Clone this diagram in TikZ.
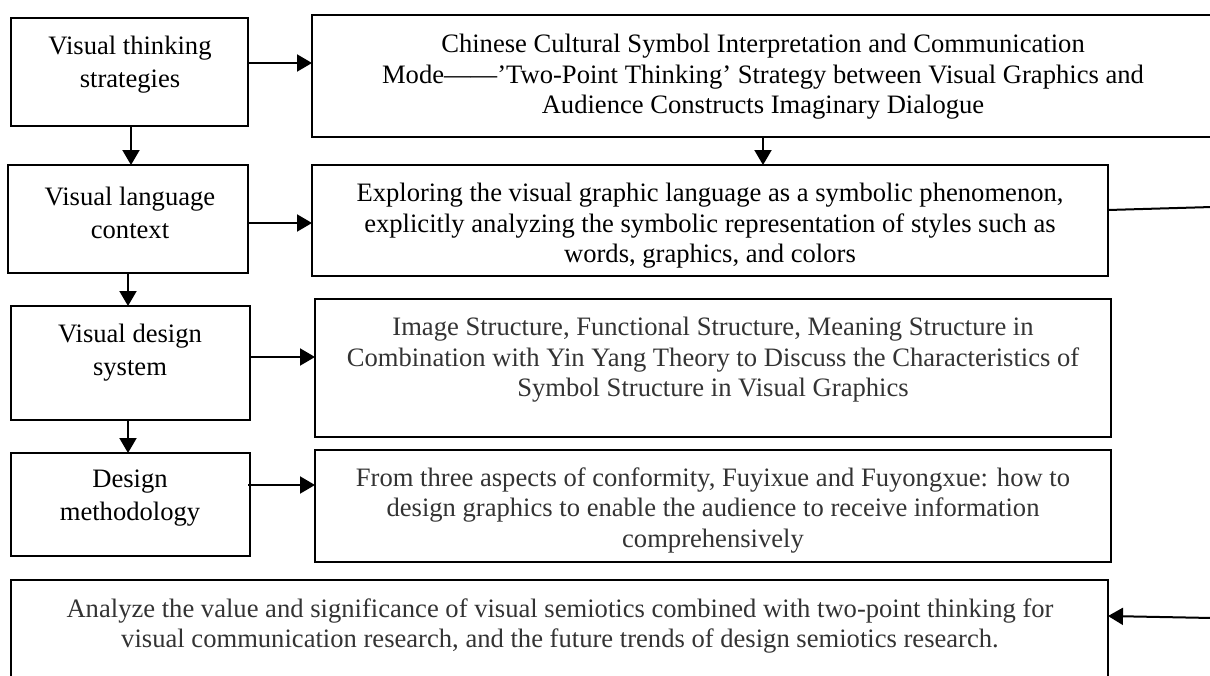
\documentclass[tikz,border=0pt]{standalone}
\usepackage{fontspec}
\setmainfont{Liberation Serif}
\usetikzlibrary{arrows.meta}
\definecolor{gtext}{HTML}{333333}
\begin{document}
\begin{tikzpicture}[x=1pt,y=-1pt,
  box/.style={draw=black,line width=2pt,fill=none},
  lefttext/.style={align=center,font=\fontsize{26.6}{33}\selectfont,inner sep=0pt},
  righttext/.style={align=center,font=\fontsize{26.6}{30.5}\selectfont,inner sep=0pt},
  arr/.style={line width=2pt,-{Triangle[length=15pt,width=17pt]}},
  plain/.style={line width=2pt}]
\useasboundingbox (0,0) rectangle (1210,675);
% left boxes
\draw[box] (11,18) rectangle (248,126);
\draw[box] (8,165) rectangle (248,273);
\draw[box] (11,306) rectangle (250,420);
\draw[box] (11,453) rectangle (250,556);
\coordinate (b1s) at (131,126); \coordinate (b2n) at (131,165);
\coordinate (b2s) at (128,273); \coordinate (b3n) at (128,306);
\coordinate (b3s) at (128,420); \coordinate (b4n) at (128,453);
\node[lefttext] (t1) at (130,65) {Visual thinking\\strategies};
\node[lefttext] (t2) at (130,213) {Visual language\\context};
\node[lefttext] (t3) at (130,353) {Visual design\\system};
\node[lefttext] (t4) at (130,498) {Design\\methodology};
% right boxes
\draw[box] (312,15) rectangle (1220,137);
\draw[box] (312,165) rectangle (1108,276);
\draw[box] (315,299) rectangle (1111,437);
\draw[box] (315,450) rectangle (1111,562);
\draw[box] (11,700) -- (11,580) -- (1108,580) -- (1108,700);
\node[righttext] (r1) at (763,77) {Chinese Cultural Symbol Interpretation and Communication\\Mode------'Two-Point Thinking' Strategy between Visual Graphics and\\Audience Constructs Imaginary Dialogue};
\node[righttext] (r2) at (710,226) {Exploring the visual graphic language as a symbolic phenomenon,\\explicitly analyzing the symbolic representation of styles such as\\words, graphics, and colors};
\node[righttext,text=gtext] (r3) at (713,360) {Image Structure, Functional Structure, Meaning Structure in\\Combination with Yin Yang Theory to Discuss the Characteristics of\\Symbol Structure in Visual Graphics};
\node[righttext,text=gtext] (r4) at (713,510) {From three aspects of conformity, Fuyixue and Fuyongxue: how to\\design graphics to enable the audience to receive information\\comprehensively};
\node[righttext,text=gtext] (r5) at (560,626) {Analyze the value and significance of visual semiotics combined with two-point thinking for\\visual communication research, and the future trends of design semiotics research.};
% connectors
\coordinate (a1s) at (248,63); \coordinate (a1e) at (312,63);
\coordinate (a2s) at (248,223); \coordinate (a2e) at (312,223);
\coordinate (a3s) at (250,357); \coordinate (a3e) at (315,357);
\coordinate (a4s) at (248,485); \coordinate (a4e) at (315,485);
\coordinate (r1s) at (763,137); \coordinate (r2n) at (763,165);
\coordinate (r2e) at (1108,210); \coordinate (edge1) at (1212,207);
\coordinate (edge2) at (1212,618); \coordinate (r5e) at (1108,616);
\draw[arr] (b1s) -- (b2n);
\draw[arr] (b2s) -- (b3n);
\draw[arr] (b3s) -- (b4n);
\draw[arr] (a1s) -- (a1e);
\draw[arr] (a2s) -- (a2e);
\draw[arr] (a3s) -- (a3e);
\draw[arr] (a4s) -- (a4e);
\draw[arr] (r1s) -- (r2n);
\draw[plain] (r2e) -- (edge1);
\draw[arr] (edge2) -- (r5e);
\end{tikzpicture}
\end{document}
